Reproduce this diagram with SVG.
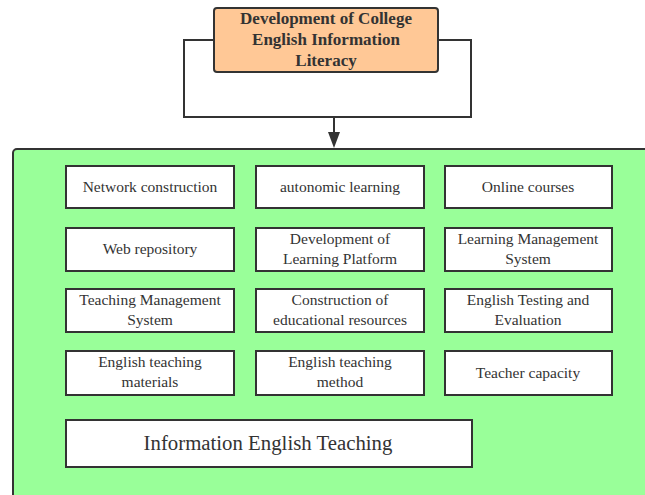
<svg xmlns="http://www.w3.org/2000/svg" width="645" height="495" viewBox="0 0 645 495">
  <defs>
    <style>
      .box { fill: #ffffff; stroke: #333333; stroke-width: 2; }
      .lbl { font-family: "Liberation Serif", "Times New Roman", serif; font-size: 15.5px; fill: #333333; text-anchor: middle; dominant-baseline: central; }
      .title { font-family: "Liberation Serif", "Times New Roman", serif; font-size: 17px; font-weight: bold; fill: #333333; text-anchor: middle; dominant-baseline: central; }
      .big { font-family: "Liberation Serif", "Times New Roman", serif; font-size: 20.8px; fill: #333333; text-anchor: middle; dominant-baseline: central; }
      .conn { fill: none; stroke: #333333; stroke-width: 2; }
    </style>
  </defs>
  <rect width="645" height="495" fill="#ffffff"/>

  <!-- container -->
  <g id="container">
    <rect x="13" y="149" width="650" height="360" rx="4" fill="#99ff99" stroke="#333333" stroke-width="2"/>
  </g>

  <!-- connectors -->
  <g id="connectors">
    <path class="conn" d="M214,40 H184 V117 H471 V40 H438"/>
    <path class="conn" d="M334,117 V134" stroke-width="2.5"/>
    <path d="M328,132 L340,132 L334,148 Z" fill="#333333"/>
  </g>

  <g id="root">
    <rect x="214" y="8" width="224" height="64" rx="3" fill="#ffc896" stroke="#333333" stroke-width="2"/>
    <text class="title" x="326" y="18.5">Development of College</text>
    <text class="title" x="326" y="39.5">English Information</text>
    <text class="title" x="326" y="60.5">Literacy</text>
  </g>

  <g id="network-construction">
    <rect class="box" x="66" y="166" width="168" height="42"/>
    <text class="lbl" x="150" y="186">Network construction</text>
  </g>
  <g id="autonomic-learning">
    <rect class="box" x="256" y="166" width="168" height="42"/>
    <text class="lbl" x="340" y="186">autonomic learning</text>
  </g>
  <g id="online-courses">
    <rect class="box" x="445" y="166" width="167" height="42"/>
    <text class="lbl" x="528" y="186">Online courses</text>
  </g>

  <g id="web-repository">
    <rect class="box" x="66" y="228" width="168" height="43"/>
    <text class="lbl" x="150" y="248">Web repository</text>
  </g>
  <g id="learning-platform">
    <rect class="box" x="256" y="228" width="168" height="43"/>
    <text class="lbl" x="340" y="238">Development of</text>
    <text class="lbl" x="340" y="258">Learning Platform</text>
  </g>
  <g id="lms">
    <rect class="box" x="445" y="228" width="167" height="43"/>
    <text class="lbl" x="528" y="238">Learning Management</text>
    <text class="lbl" x="528" y="258">System</text>
  </g>

  <g id="tms">
    <rect class="box" x="66" y="289" width="168" height="43"/>
    <text class="lbl" x="150" y="299">Teaching Management</text>
    <text class="lbl" x="150" y="319">System</text>
  </g>
  <g id="educational-resources">
    <rect class="box" x="256" y="289" width="168" height="43"/>
    <text class="lbl" x="340" y="299">Construction of</text>
    <text class="lbl" x="340" y="319">educational resources</text>
  </g>
  <g id="testing-evaluation">
    <rect class="box" x="445" y="289" width="167" height="43"/>
    <text class="lbl" x="528" y="299">English Testing and</text>
    <text class="lbl" x="528" y="319">Evaluation</text>
  </g>

  <g id="teaching-materials">
    <rect class="box" x="66" y="351" width="168" height="44"/>
    <text class="lbl" x="150" y="361">English teaching</text>
    <text class="lbl" x="150" y="381">materials</text>
  </g>
  <g id="teaching-method">
    <rect class="box" x="256" y="351" width="168" height="44"/>
    <text class="lbl" x="340" y="361">English teaching</text>
    <text class="lbl" x="340" y="381">method</text>
  </g>
  <g id="teacher-capacity">
    <rect class="box" x="445" y="351" width="167" height="44"/>
    <text class="lbl" x="528" y="372">Teacher capacity</text>
  </g>

  <g id="information-english-teaching">
    <rect class="box" x="66" y="420" width="406" height="47"/>
    <text class="big" x="268" y="442">Information English Teaching</text>
  </g>
</svg>
